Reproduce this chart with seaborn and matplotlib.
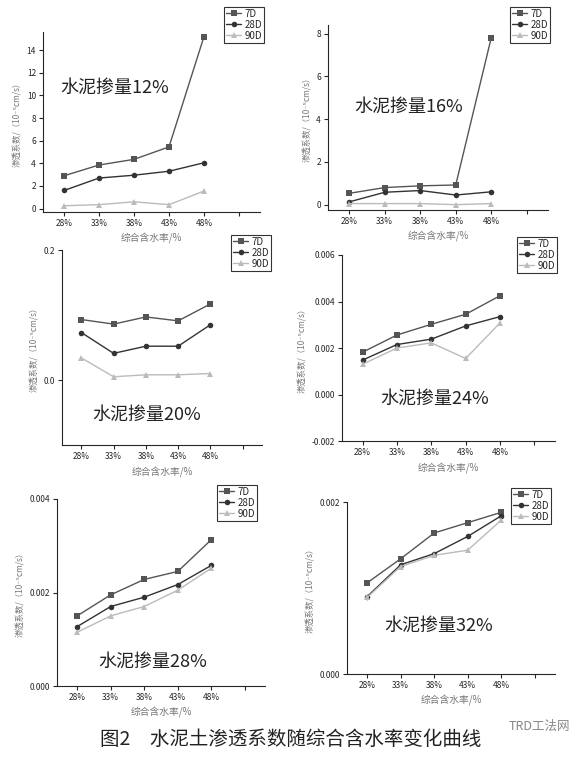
import matplotlib
matplotlib.use("Agg")
import matplotlib.pyplot as plt
import seaborn as sns
import pandas as pd

sns.set_style("ticks")
plt.rcParams['font.family'] = ['Noto Sans CJK SC', 'DejaVu Sans']

moisture = ["28%", "33%", "38%", "43%", "48%"]
ages = ["7D", "28D", "90D"]

p12 = [[2.9, 3.85, 4.35, 5.45, 15.2], [1.6, 2.7, 2.95, 3.3, 4.05], [0.25, 0.35, 0.6, 0.35, 1.55]]
p16 = [[0.53, 0.8, 0.88, 0.92, 7.8], [0.13, 0.58, 0.66, 0.45, 0.6], [0.05, 0.05, 0.05, 0.0, 0.05]]
p20 = [[0.093, 0.086, 0.097, 0.091, 0.117], [0.073, 0.041, 0.052, 0.052, 0.085], [0.034, 0.005, 0.008, 0.008, 0.010]]
p24 = [[0.00182, 0.00256, 0.00302, 0.00345, 0.00425], [0.00148, 0.00215, 0.00238, 0.00295, 0.00335],
       [0.00130, 0.00200, 0.00222, 0.00155, 0.00308]]
p28 = [[0.00150, 0.00195, 0.00228, 0.00245, 0.00313], [0.00127, 0.00170, 0.00190, 0.00217, 0.00258],
       [0.00115, 0.00150, 0.00170, 0.00205, 0.00252]]
p32 = [[0.00106, 0.00134, 0.00164, 0.00176, 0.00188], [0.00090, 0.00127, 0.00140, 0.00160, 0.00184],
       [0.00089, 0.00125, 0.00138, 0.00144, 0.00179]]

colors = {"7D": "#555555", "28D": "#333333", "90D": "#bbbbbb"}
markers = {"7D": "s", "28D": "o", "90D": "^"}

W, H = 582, 758
fig = plt.figure(figsize=(W / 100, H / 100), dpi=100)


def box(l, t, r, b):
    return [l / W, 1 - b / H, (r - l) / W, (b - t) / H]


def panel(vals, rect, ylim, yticks, fmt, label, lpos, leg):
    ax = fig.add_axes(box(*rect))
    df = pd.DataFrame({"x": list(range(5)) * 3,
                       "y": sum(vals, []),
                       "age": [a for a in ages for _ in range(5)]})
    sns.lineplot(data=df, x="x", y="y", hue="age", style="age", palette=colors,
                 markers=markers, dashes=False, markersize=4, linewidth=1,
                 markeredgewidth=0, ax=ax, legend=True)
    ax.set_xlim(-0.6, 5.6)
    ax.set_xticks(range(6))
    ax.set_xticklabels(moisture + [""], fontsize=6)
    ax.set_ylim(*ylim)
    ax.set_yticks(yticks)
    ax.set_yticklabels([fmt.format(v) for v in yticks], fontsize=6)
    ax.tick_params(length=3, width=0.8, pad=2)
    ax.set_xlabel("综合含水率/%", fontsize=7, color="#777777")
    ax.set_ylabel("渗透系数/（10⁻⁵cm/s）", fontsize=6, color="#777777",
                  family=['Noto Sans CJK SC', 'DejaVu Sans'])
    sns.despine(ax=ax)
    ax.text(lpos[0], lpos[1], label, transform=ax.transAxes, fontsize=13, color="#222222")
    h, lab = ax.get_legend_handles_labels()
    ax.get_legend().remove()
    lg = fig.legend(h, lab, loc="upper left", bbox_to_anchor=(leg[0] / W, 1 - leg[1] / H),
                    fontsize=7, frameon=True, fancybox=False, edgecolor="black",
                    handlelength=1.6, borderpad=0.2, labelspacing=0.1, handletextpad=0.3)
    lg.get_frame().set_linewidth(0.8)


panel(p12, (43, 32, 260, 212), (-0.3, 15.6), [0, 2, 4, 6, 8, 10, 12, 14], "{:g}", "水泥掺量12%", (0.08, 0.66), (219, 2))
panel(p16, (328, 25, 548, 210), (-0.25, 8.4), [0, 2, 4, 6, 8], "{:g}", "水泥掺量16%", (0.12, 0.53), (505, 2))
panel(p20, (62, 250, 262, 445), (-0.1, 0.2), [0.0, 0.2], "{:.1f}", "水泥掺量20%", (0.15, 0.13), (226, 230))
panel(p24, (342, 255, 555, 441), (-0.002, 0.006), [-0.002, 0.0, 0.002, 0.004, 0.006], "{:.3f}", "水泥掺量24%", (0.18, 0.2), (512, 232))
panel(p28, (57, 499, 265, 686), (0.0, 0.004), [0.0, 0.002, 0.004], "{:.3f}", "水泥掺量28%", (0.2, 0.1), (212, 480))
panel(p32, (347, 502, 555, 674), (0.0, 0.002), [0.0, 0.002], "{:.3f}", "水泥掺量32%", (0.18, 0.25), (506, 483))

fig.text(0.5, 13 / H, "图2　水泥土渗透系数随综合含水率变化曲线", ha="center", fontsize=14, color="#222222")
fig.text(0.98, 28 / H, "TRD工法网", ha="right", fontsize=9, color="#888888")

fig.savefig("out.png", dpi=100)
